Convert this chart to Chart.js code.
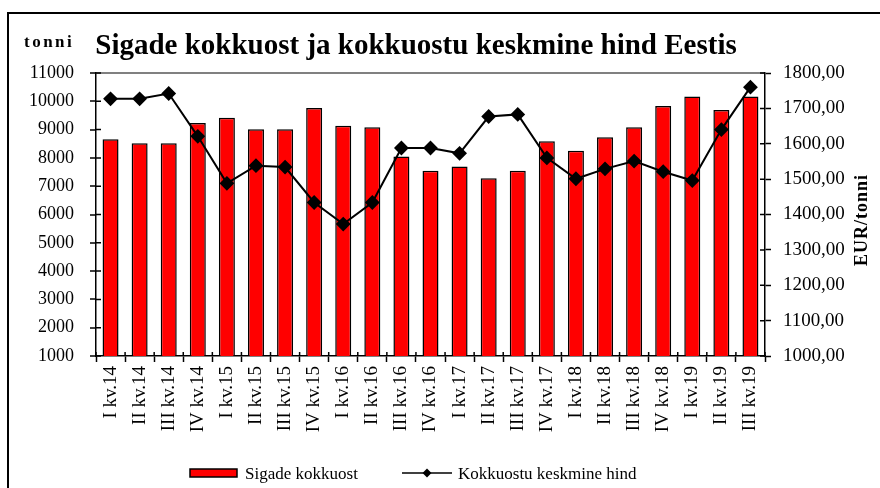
<!DOCTYPE html>
<html>
<head>
<meta charset="utf-8">
<script src="https://cdn.jsdelivr.net/npm/chart.js@4.4.1/dist/chart.umd.min.js"></script>
<style>
  body { margin: 0; background: #fff; }
  #wrap { width: 880px; height: 488px; }
</style>
</head>
<body>
<div id="wrap"><canvas id="canvas" width="880" height="488"></canvas></div>
<script>
// quarters, bars = tonnes bought, line = average price EUR/t
const quarters = ['I kv.14', 'II kv.14', 'III kv.14', 'IV kv.14', 'I kv.15', 'II kv.15', 'III kv.15', 'IV kv.15',
    'I kv.16', 'II kv.16', 'III kv.16', 'IV kv.16', 'I kv.17', 'II kv.17', 'III kv.17', 'IV kv.17',
    'I kv.18', 'II kv.18', 'III kv.18', 'IV kv.18', 'I kv.19', 'II kv.19', 'III kv.19'];
const tonnes = [8660, 8520, 8520, 9230, 9420, 9010, 9010, 9760,
    9140, 9080, 8050, 7550, 7700, 7280, 7550, 8590,
    8250, 8730, 9080, 9830, 10170, 9690, 10170];
const avgPrice = [1727, 1727, 1742, 1621, 1488, 1538, 1534, 1434,
    1373, 1434, 1588, 1588, 1573, 1677, 1683, 1560,
    1501, 1529, 1551, 1521, 1496, 1640, 1760];
const leftTicks = { min: 1000, max: 11000, step: 1000 };
const rightTicks = { min: 1000, max: 1800, step: 100 };

const serif = 'Liberation Serif';

// frame, titles, inner tick halves and legend
const extras = {
    id: 'extras',
    afterDraw(chart) {
        const c = chart.ctx;
        const area = chart.chartArea;
        c.save();

        c.strokeStyle = '#000';
        c.lineWidth = 2;
        c.beginPath();
        c.moveTo(8, 488);
        c.lineTo(8, 13);
        c.lineTo(880, 13);
        c.stroke();

        // inner halves of the ticks
        c.lineWidth = 1.5;
        c.beginPath();
        chart.scales.y.ticks.forEach(t => {
            const py = chart.scales.y.getPixelForValue(t.value);
            c.moveTo(area.left, py); c.lineTo(area.left + 5, py);
        });
        chart.scales.y1.ticks.forEach(t => {
            const py = chart.scales.y1.getPixelForValue(t.value);
            c.moveTo(area.right, py); c.lineTo(area.right - 5, py);
        });
        for (let i = 0; i <= quarters.length; i++) {
            const px = area.left + (area.right - area.left) * i / quarters.length;
            c.moveTo(px, area.bottom); c.lineTo(px, area.bottom - 4);
        }
        c.stroke();

        c.fillStyle = '#000';
        c.textBaseline = 'alphabetic';
        c.textAlign = 'center';
        c.font = 'bold 29px "' + serif + '"';
        c.fillText('Sigade kokkuost ja kokkuostu keskmine hind Eestis', 416, 54);

        c.textAlign = 'left';
        c.font = 'bold 17px "' + serif + '"';
        c.letterSpacing = '2.5px';
        c.fillText('tonni', 24, 47);

        c.save();
        c.translate(867, 220);
        c.rotate(-Math.PI / 2);
        c.textAlign = 'center';
        c.font = 'bold 18px "' + serif + '"';
        c.letterSpacing = '1px';
        c.fillText('EUR/tonni', 0, 0);
        c.restore();

        c.letterSpacing = '0px';
        // legend
        c.fillStyle = '#ff0000';
        c.fillRect(190, 469, 47, 8);
        c.strokeStyle = '#000';
        c.lineWidth = 1.5;
        c.strokeRect(190, 469, 47, 8);
        c.fillStyle = '#000';
        c.font = '17px "' + serif + '"';
        c.fillText('Sigade kokkuost', 245, 479);

        c.lineWidth = 1.5;
        c.beginPath();
        c.moveTo(402, 473); c.lineTo(452, 473);
        c.stroke();
        c.beginPath();
        c.moveTo(427, 468.5); c.lineTo(431.5, 473); c.lineTo(427, 477.5); c.lineTo(422.5, 473);
        c.closePath();
        c.fill();
        c.fillText('Kokkuostu keskmine hind', 458, 479);

        c.restore();
    }
};

const ctx = document.getElementById('canvas').getContext('2d');
const chart = new Chart(ctx, {
    type: 'bar',
    data: {
        labels: quarters,
        datasets: [{
            type: 'line',
            label: 'Kokkuostu keskmine hind',
            data: avgPrice,
            yAxisID: 'y1',
            borderColor: '#000',
            borderWidth: 2,
            pointStyle: 'rectRot',
            pointRadius: 6,
            pointBackgroundColor: '#000',
            pointBorderColor: '#000',
            tension: 0,
            order: 0
        }, {
            label: 'Sigade kokkuost',
            data: tonnes,
            yAxisID: 'y',
            backgroundColor: '#ff0000',
            borderColor: '#000',
            borderWidth: 1.5,
            barPercentage: 0.55,
            categoryPercentage: 1,
            order: 1
        }]
    },
    options: {
        responsive: false,
        animation: false,
        layout: { padding: { top: 73, left: 0, right: 0, bottom: 0 } },
        plugins: {
            legend: { display: false },
            title: { display: false },
            tooltip: { enabled: false }
        },
        scales: {
            x: {
                grid: { offset: true, drawOnChartArea: false, tickLength: 6, tickColor: '#000', tickWidth: 1.5 },
                border: { color: '#000', width: 1.5 },
                ticks: { maxRotation: 90, minRotation: 90, autoSkip: false, padding: 4, color: '#000',
                    font: { family: serif, size: 19 } },
                afterFit: s => { s.height = 132; }
            },
            y: {
                position: 'left',
                min: leftTicks.min,
                max: leftTicks.max,
                ticks: { stepSize: leftTicks.step, padding: 16, color: '#000',
                    font: { family: serif, size: 18 }, callback: v => String(v) },
                grid: {
                    color: c => (c.tick && c.tick.value === leftTicks.max) ? '#808080' : 'rgba(0,0,0,0)',
                    lineWidth: 2,
                    tickColor: '#000',
                    tickLength: 6,
                    tickWidth: 1.5
                },
                border: { color: '#000', width: 1.5 },
                afterFit: s => { s.width = 96; }
            },
            y1: {
                position: 'right',
                min: rightTicks.min,
                max: rightTicks.max,
                ticks: { stepSize: rightTicks.step, padding: 12, color: '#000',
                    font: { family: serif, size: 19 },
                    callback: v => v.toFixed(2).replace('.', ',') },
                grid: { drawOnChartArea: false, tickColor: '#000', tickLength: 6, tickWidth: 1.5 },
                border: { color: '#000', width: 1.5 },
                afterFit: s => { s.width = 115; }
            }
        }
    },
    plugins: [extras]
});
</script>
</body>
</html>
